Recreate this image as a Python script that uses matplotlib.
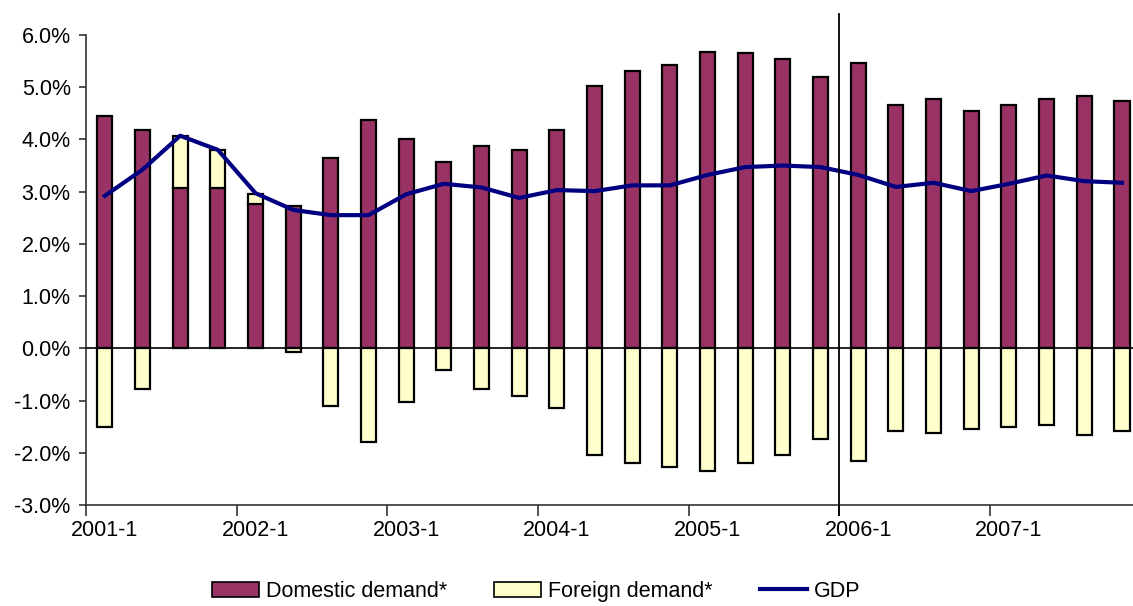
import matplotlib
matplotlib.use('Agg')
import matplotlib.pyplot as plt
from matplotlib.lines import Line2D
from matplotlib.patches import Patch
from matplotlib.ticker import FuncFormatter

plt.rcParams['font.family'] = ['Liberation Sans', 'DejaVu Sans']

quarters = [f"{y}-{q}" for y in range(2001, 2008) for q in range(1, 5)]

domestic = [4.45, 4.18, 3.07, 3.07, 2.77, 2.72, 3.65, 4.38, 4.00, 3.57,
            3.88, 3.80, 4.18, 5.03, 5.31, 5.42, 5.68, 5.65, 5.54, 5.19,
            5.46, 4.65, 4.77, 4.54, 4.65, 4.77, 4.84, 4.74]
foreign = [-1.50, -0.77, 1.00, 0.73, 0.18, -0.07, -1.11, -1.80, -1.03, -0.42,
           -0.77, -0.92, -1.15, -2.04, -2.20, -2.27, -2.35, -2.20, -2.04, -1.73,
           -2.16, -1.58, -1.62, -1.54, -1.51, -1.47, -1.66, -1.58]
gdp = [2.92, 3.42, 4.07, 3.80, 2.97, 2.65, 2.55, 2.55, 2.95, 3.15,
       3.08, 2.88, 3.03, 3.01, 3.12, 3.12, 3.32, 3.47, 3.50, 3.47,
       3.32, 3.09, 3.17, 3.01, 3.15, 3.31, 3.20, 3.17]

dom_color = '#993366'
for_color = '#FFFFCC'
gdp_color = '#000080'
fs = 15.5

fig = plt.figure(figsize=(11.33, 6.06), dpi=100)
ax = fig.add_axes([0.0759, 0.1667, 0.931, 0.7756])

x = list(range(len(quarters)))
ax.bar(x, domestic, width=0.4, color=dom_color, edgecolor='black', linewidth=1.6, zorder=2)
bottoms = [d if f > 0 else 0 for d, f in zip(domestic, foreign)]
ax.bar(x, foreign, width=0.4, bottom=bottoms, color=for_color, edgecolor='black',
       linewidth=1.6, zorder=2)
ax.plot(x, gdp, color=gdp_color, linewidth=3, zorder=3)

ax.axhline(0, color='black', linewidth=1.2, zorder=4)
# marks the start of the forecast period
ax.plot([19.5, 19.5], [-3.2, 6.4], color='black', linewidth=1.3, clip_on=False, zorder=4)

ax.set_xlim(-0.5, 27.5)
ax.set_ylim(-3, 6)
ax.set_yticks([-3, -2, -1, 0, 1, 2, 3, 4, 5, 6])
ax.yaxis.set_major_formatter(FuncFormatter(lambda v, p: f"{v:.1f}%"))

ax.set_xticks(x[::4])
ax.set_xticklabels(quarters[::4])
ax.set_xticks([i - 0.5 for i in range(0, 28, 4)], minor=True)
ax.tick_params(axis='x', which='major', length=0, pad=11, labelsize=fs)
ax.tick_params(axis='x', which='minor', length=8, width=1.2, color='#333333')
ax.tick_params(axis='y', length=5, width=1.2, color='#333333', labelsize=fs, pad=6)

for s in ['top', 'right']:
    ax.spines[s].set_visible(False)
for s in ['left', 'bottom']:
    ax.spines[s].set_color('#333333')
    ax.spines[s].set_linewidth(1.2)

handles = [Patch(facecolor=dom_color, edgecolor='black', linewidth=1.2),
           Patch(facecolor=for_color, edgecolor='black', linewidth=1.2),
           Line2D([0], [0], color=gdp_color, linewidth=3)]
fig.legend(handles, ['Domestic demand*', 'Foreign demand*', 'GDP'],
           loc='center', bbox_to_anchor=(0.473, 0.024), ncol=3, frameon=False,
           fontsize=fs, handlelength=2.2, handleheight=0.75, columnspacing=2.2,
           handletextpad=0.3, borderpad=0.1)

fig.savefig('out.png', dpi=100)
